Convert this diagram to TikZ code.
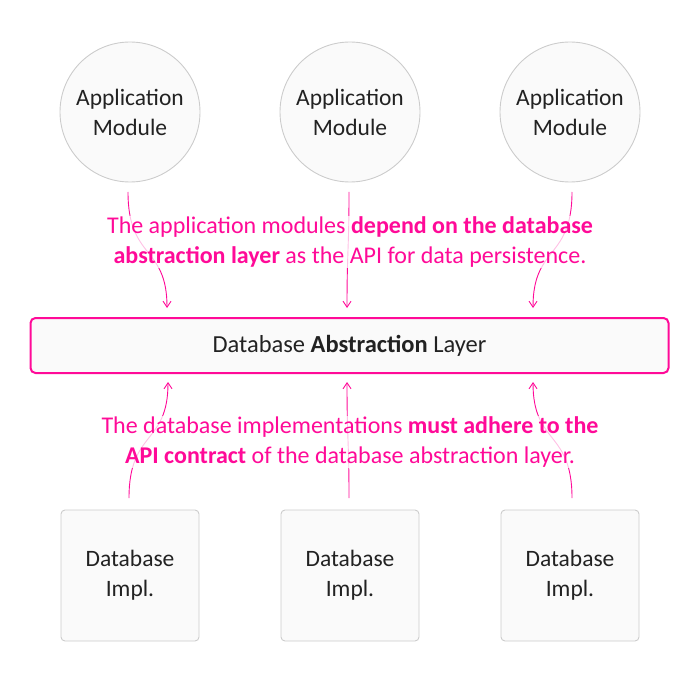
\documentclass[tikz,border=0pt]{standalone}
\usepackage{fontspec}
\setmainfont{Carlito}
\usetikzlibrary{arrows.meta}
\definecolor{mag}{HTML}{FF0A98}
\definecolor{edgegray}{HTML}{CCCCCC}
\definecolor{fillgray}{HTML}{FAFAFA}
\definecolor{txt}{HTML}{222222}
\tikzset{
  modcircle/.style={circle, draw=edgegray, fill=fillgray, line width=0.9pt, minimum size=140pt, inner sep=0pt, align=center, font=\fontsize{23.5}{30}\selectfont, text=txt},
  implbox/.style={rectangle, rounded corners=4pt, draw=edgegray, fill=fillgray, line width=0.9pt, minimum width=138pt, minimum height=131pt, inner sep=0pt, align=center, font=\fontsize{23.5}{30}\selectfont, text=txt},
  dalbox/.style={rectangle, rounded corners=5pt, draw=mag, fill=fillgray, line width=2pt, minimum width=638pt, minimum height=55pt, inner sep=0pt, font=\fontsize{24.5}{28}\selectfont, text=txt},
  note/.style={align=center, text=mag, fill=white, fill opacity=0.75, text opacity=1, inner sep=1pt, font=\fontsize{24}{30}\selectfont},
  conn/.style={draw=mag, line width=0.9pt, -{Straight Barb[length=6pt,width=8pt]}},
}
\begin{document}
\begin{tikzpicture}[x=1pt,y=-1pt]
\useasboundingbox (0,0) rectangle (700,692);
\node[modcircle] (m1) at (130,112) {Application\\Module};
\node[modcircle] (m2) at (350,112) {Application\\Module};
\node[modcircle] (m3) at (570,112) {Application\\Module};
\node[dalbox] (dal) at (349.5,345.5) {Database \textbf{Abstraction} Layer};
\node[implbox] (i1) at (130,575.5) {Database\\Impl.};
\node[implbox] (i2) at (350,575.5) {Database\\Impl.};
\node[implbox] (i3) at (570,575.5) {Database\\Impl.};
\coordinate (a1s) at (128,192); \coordinate (a1e) at (167,308);
\coordinate (a2s) at (349,192); \coordinate (a2e) at (347,308);
\coordinate (a3s) at (572,192); \coordinate (a3e) at (533,308);
\coordinate (b1s) at (129,498); \coordinate (b1e) at (168,382);
\coordinate (b2s) at (349,498); \coordinate (b2e) at (347,382);
\coordinate (b3s) at (572,498); \coordinate (b3e) at (533,382);
\draw[conn] (a1s) .. controls (128,260) and (167,245) .. (a1e);
\draw[conn] (a2s) .. controls (349,250) and (347,250) .. (a2e);
\draw[conn] (a3s) .. controls (572,260) and (533,245) .. (a3e);
\draw[conn] (b1s) .. controls (129,430) and (168,445) .. (b1e);
\draw[conn] (b2s) .. controls (349,440) and (347,440) .. (b2e);
\draw[conn] (b3s) .. controls (572,430) and (533,445) .. (b3e);
\node[note] (t1) at (350,242) {The application modules \textbf{depend on the database}\\\textbf{abstraction layer} as the API for data persistence.};
\node[note] (t2) at (350,442) {The database implementations \textbf{must adhere to the}\\\textbf{API contract} of the database abstraction layer.};
\end{tikzpicture}
\end{document}
